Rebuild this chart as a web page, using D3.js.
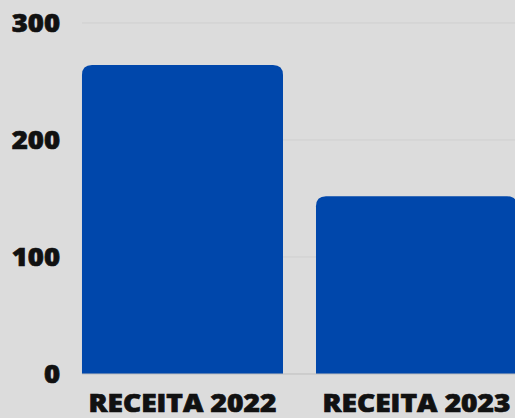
<!DOCTYPE html>
<html><head><meta charset="utf-8">
<script src="https://cdn.jsdelivr.net/npm/d3@7"></script>
<style>html,body{margin:0;padding:0;background:#dcdcdc;overflow:hidden}</style>
</head><body>
<svg id="c" width="515" height="418"></svg>
<script>
const categories = ["RECEITA 2022", "RECEITA 2023"];
const values = [264, 152];
const yTicks = [0, 100, 200, 300];

const svg = d3.select("#c");
svg.append("rect").attr("width",515).attr("height",418).attr("fill","#dcdcdc");
const y = d3.scaleLinear().domain([0,300]).range([374,23]);
const x = d3.scaleBand().domain(categories).range([65.6,533.4]).paddingInner(0.141).paddingOuter(0.07);

svg.append("g").selectAll("line").data(yTicks.filter(d=>d>0)).join("line")
  .attr("x1",82).attr("x2",515).attr("y1",d=>y(d)).attr("y2",d=>y(d))
  .attr("stroke","#cfcfcf").attr("stroke-width",1);

const r = 10;
svg.append("g").selectAll("path").data(values).join("path")
  .attr("fill","#0047ab")
  .attr("d",(d,i)=>{
    const x0=x(categories[i]), x1=x0+x.bandwidth(), yt=y(d), yb=y(0);
    return `M${x0},${yb}V${yt+r}Q${x0},${yt} ${x0+r},${yt}H${x1-r}Q${x1},${yt} ${x1},${yt+r}V${yb}Z`;
  });

svg.append("line").attr("x1",82).attr("x2",515).attr("y1",y(0)).attr("y2",y(0))
  .attr("stroke","#bdbdbd").attr("stroke-width",1);

const font = "'Open Sans', sans-serif";
svg.append("g").selectAll("text").data(yTicks).join("text")
  .attr("transform",d=>`translate(60,${y(d)+9}) scale(1.1,1)`).attr("text-anchor","end")
  .attr("font-family",font).attr("font-weight",800).attr("font-size",25).attr("fill","#111")
  .attr("stroke","#111").attr("stroke-width",0.7)
  .text(d=>d);

svg.append("g").selectAll("text").data(categories).join("text")
  .attr("transform",d=>`translate(${x(d)+x.bandwidth()/2},412) scale(1.17,1)`).attr("text-anchor","middle")
  .attr("font-family",font).attr("font-weight",800).attr("font-size",24).attr("fill","#111")
  .attr("stroke","#111").attr("stroke-width",0.7)
  .text(d=>d);
</script>
</body></html>
